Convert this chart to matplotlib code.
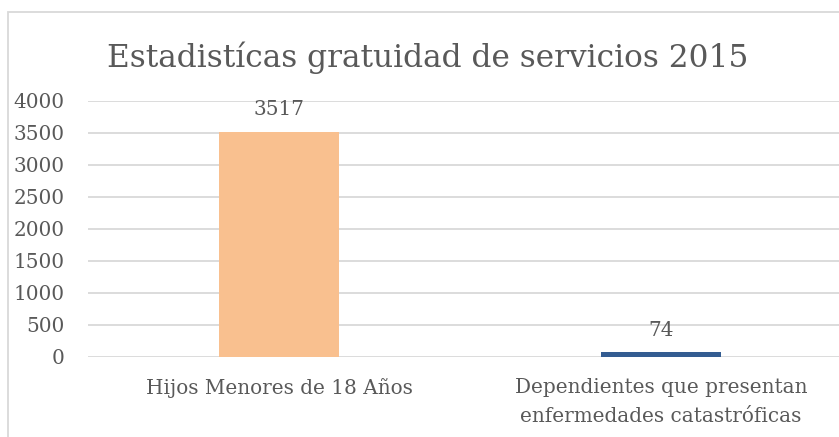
import matplotlib.pyplot as plt
from matplotlib.patches import Rectangle

categories = ['Hijos Menores de 18 Años', 'Dependientes que presentan\nenfermedades catastróficas']
values = [3517, 74]
bar_colors = ['#F9C08F', '#335C91']
yticks = [0, 500, 1000, 1500, 2000, 2500, 3000, 3500, 4000]
title = 'Estadistícas gratuidad de servicios 2015'

W, H = 839, 437
txt = '#595959'
grid = '#D9D9D9'
fs = 14.4

plt.rcParams['font.family'] = ['DejaVu Serif']

fig = plt.figure(figsize=(W / 100, H / 100), dpi=100)

# chart frame (runs off the right and bottom edges)
fig.patches.append(Rectangle((8 / W, -0.1), 1.2, 1 - 12 / H + 0.1, transform=fig.transFigure,
                             fill=False, edgecolor=grid, linewidth=1.3))

ax = fig.add_axes([88 / W, 80 / H, 764 / W, 256 / H])
x = range(len(categories))
bars = ax.bar(x, values, width=0.314, color=bar_colors, zorder=3)
ax.set_xlim(-0.5, 1.5)
ax.set_ylim(0, 4000)
ax.set_yticks(yticks)
ax.yaxis.grid(True, color=grid, linewidth=1.3, zorder=0)
for s in ax.spines.values():
    s.set_visible(False)
ax.set_xticks(list(x))
ax.set_xticklabels(categories, fontsize=fs, color=txt, linespacing=1.65)
ax.tick_params(axis='x', length=0, pad=15)
ax.tick_params(axis='y', length=0, pad=17, labelsize=fs, labelcolor=txt)

for b, v in zip(bars, values):
    ax.annotate(str(v), (b.get_x() + b.get_width() / 2, v), xytext=(0, 12),
                textcoords='offset points', ha='center', va='baseline',
                fontsize=fs, color=txt)

fig.text(428 / W, 1 - 67 / H, title, ha='center', va='baseline', fontsize=22.5, color=txt)

fig.savefig('out.png', dpi=100)
